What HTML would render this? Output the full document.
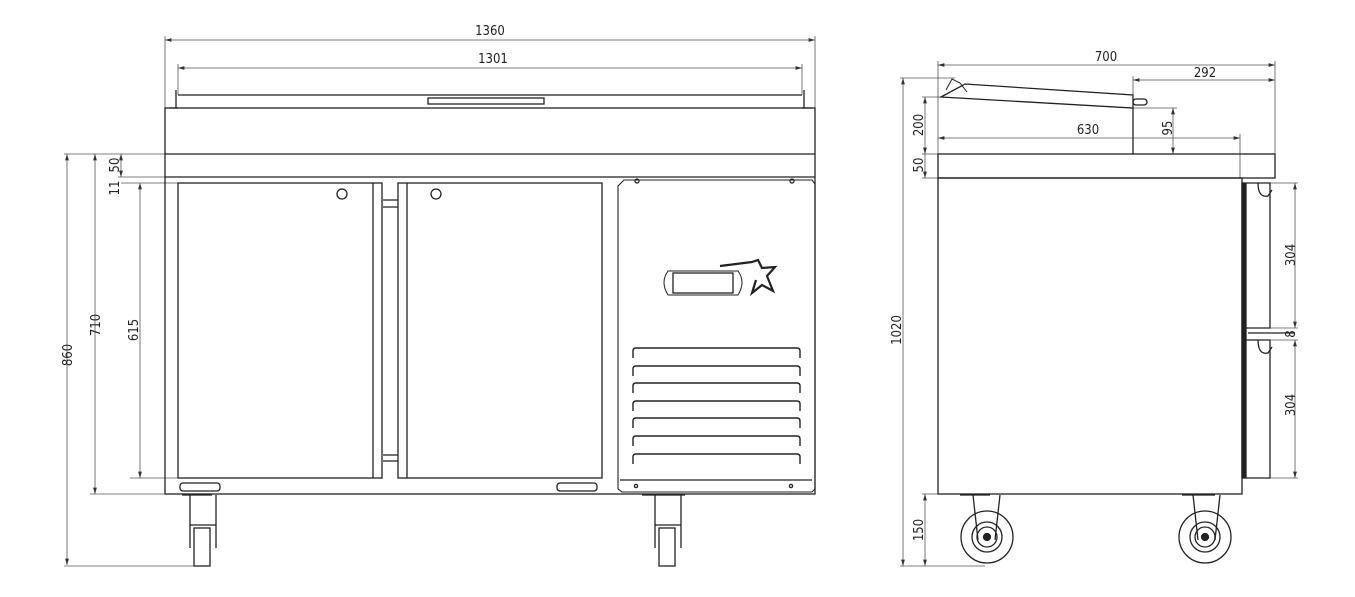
<!DOCTYPE html>
<html><head><meta charset="utf-8"><style>
html,body{margin:0;padding:0;background:#fff;}
svg{display:block;}
text{font-family:"DejaVu Sans Condensed","Liberation Sans Narrow","Liberation Sans",sans-serif;font-size:13px;fill:#222;}
</style></head><body>
<svg width="1355" height="597" viewBox="0 0 1355 597" xmlns="http://www.w3.org/2000/svg">
<defs>
<marker id="a" viewBox="0 0 10 6" refX="10" refY="3" markerWidth="8" markerHeight="5" orient="auto-start-reverse"><path d="M0,0 L10,3 L0,6 z" fill="#333"/></marker>
</defs>
<g stroke="#555" stroke-width="0.8" fill="none">
<line x1="165" y1="40" x2="815" y2="40" marker-start="url(#a)" marker-end="url(#a)"/>
<line x1="165" y1="36" x2="165" y2="108"/><line x1="815" y1="36" x2="815" y2="108"/>
<line x1="178" y1="68" x2="802" y2="68" marker-start="url(#a)" marker-end="url(#a)"/>
<line x1="178" y1="64" x2="178" y2="95"/><line x1="802" y1="64" x2="802" y2="95"/>
<line x1="67" y1="154" x2="67" y2="565" marker-start="url(#a)" marker-end="url(#a)"/>
<line x1="64" y1="154" x2="165" y2="154"/><line x1="64" y1="566" x2="197" y2="566"/>
<line x1="95" y1="154" x2="95" y2="494" marker-start="url(#a)" marker-end="url(#a)"/>
<line x1="90" y1="494" x2="165" y2="494"/>
<line x1="140" y1="183" x2="140" y2="478" marker-start="url(#a)" marker-end="url(#a)"/>
<line x1="121" y1="183" x2="178" y2="183"/><line x1="130" y1="478" x2="178" y2="478"/>
<line x1="121" y1="154" x2="121" y2="177" marker-start="url(#a)" marker-end="url(#a)"/>
<line x1="118" y1="177" x2="165" y2="177"/>
<line x1="938" y1="65" x2="1275" y2="65" marker-start="url(#a)" marker-end="url(#a)"/>
<line x1="938" y1="61" x2="938" y2="154"/><line x1="1275" y1="61" x2="1275" y2="154"/>
<line x1="1133" y1="80" x2="1275" y2="80" marker-start="url(#a)" marker-end="url(#a)"/>
<line x1="1133" y1="76" x2="1133" y2="95"/>
<line x1="938" y1="138" x2="1240" y2="138" marker-start="url(#a)" marker-end="url(#a)"/>
<line x1="1240" y1="134" x2="1240" y2="178"/>
<line x1="1173" y1="108" x2="1173" y2="154" marker-start="url(#a)" marker-end="url(#a)"/>
<line x1="1133" y1="108" x2="1177" y2="108"/>
<line x1="925" y1="97" x2="925" y2="154" marker-start="url(#a)" marker-end="url(#a)"/>
<line x1="922" y1="97" x2="945" y2="97"/><line x1="922" y1="154" x2="938" y2="154"/>
<line x1="925" y1="154" x2="925" y2="178" marker-end="url(#a)"/>
<line x1="922" y1="178" x2="938" y2="178"/>
<line x1="903" y1="78" x2="903" y2="566" marker-start="url(#a)" marker-end="url(#a)"/>
<line x1="900" y1="78" x2="955" y2="78"/><line x1="900" y1="566" x2="985" y2="566"/>
<line x1="925" y1="494" x2="925" y2="566" marker-start="url(#a)" marker-end="url(#a)"/>
<line x1="922" y1="494" x2="938" y2="494"/>
<line x1="1295" y1="183" x2="1295" y2="328" marker-start="url(#a)" marker-end="url(#a)"/>
<line x1="1295" y1="340" x2="1295" y2="478" marker-start="url(#a)" marker-end="url(#a)"/>
<line x1="1270" y1="183" x2="1298" y2="183"/><line x1="1270" y1="328" x2="1298" y2="328"/>
<line x1="1270" y1="340" x2="1298" y2="340"/><line x1="1270" y1="478" x2="1298" y2="478"/>
</g>
<text x="490" y="35" text-anchor="middle">1360</text>
<text x="493" y="63" text-anchor="middle">1301</text>
<text transform="translate(72,355) rotate(-90)" text-anchor="middle">860</text>
<text transform="translate(100,325) rotate(-90)" text-anchor="middle">710</text>
<text transform="translate(138,330) rotate(-90)" text-anchor="middle">615</text>
<text transform="translate(119,165) rotate(-90)" text-anchor="middle">50</text>
<text transform="translate(119,188) rotate(-90)" text-anchor="middle">11</text>
<text x="1106" y="61" text-anchor="middle">700</text>
<text x="1205" y="77" text-anchor="middle">292</text>
<text x="1088" y="134" text-anchor="middle">630</text>
<text transform="translate(1172,128) rotate(-90)" text-anchor="middle">95</text>
<text transform="translate(923,125) rotate(-90)" text-anchor="middle">200</text>
<text transform="translate(923,165) rotate(-90)" text-anchor="middle">50</text>
<text transform="translate(901,330) rotate(-90)" text-anchor="middle">1020</text>
<text transform="translate(923,530) rotate(-90)" text-anchor="middle">150</text>
<text transform="translate(1295,255) rotate(-90)" text-anchor="middle">304</text>
<text transform="translate(1295,334) rotate(-90)" text-anchor="middle">8</text>
<text transform="translate(1295,405) rotate(-90)" text-anchor="middle">304</text>

<g stroke="#222" stroke-width="1.3" fill="none">
<line x1="178" y1="95" x2="802" y2="95"/>
<rect x="428" y="98" width="116" height="6"/>
<path d="M176,90 V108 M169,108 H178 M804,90 V108 M802,108 H812"/>
<rect x="165" y="108" width="650" height="386"/>
<line x1="165" y1="154" x2="815" y2="154"/>
<line x1="165" y1="177" x2="815" y2="177"/>
<rect x="178" y="183" width="204" height="295"/>
<line x1="373" y1="183" x2="373" y2="478"/>
<rect x="398" y="183" width="204" height="295"/>
<line x1="407" y1="183" x2="407" y2="478"/>
<path d="M383,200 H398 M383,207 H398 M383,455 H398 M383,461 H398"/>
<circle cx="342" cy="194" r="5"/><circle cx="436" cy="194" r="5"/>
<path d="M618,186 L624,180 H812 L815,184 V489 L812,492 H622 L618,489 Z" stroke-width="1.1"/>
<line x1="620" y1="480" x2="812" y2="480"/>
<circle cx="637" cy="181" r="2"/><circle cx="792" cy="181" r="2"/>
<circle cx="636" cy="486" r="1.6"/><circle cx="791" cy="486" r="1.6"/>
<path d="M668,271 H738 Q746,282 738,295 H668 Q660,282 668,271 Z" stroke-width="1"/>
<rect x="673" y="273" width="60" height="20"/>
<path d="M720,266 L752,262 L758,260 L762,268 L775,267 L767,276 L773,291 L762,285 L752,293 L756,280" stroke-width="2.2"/>
<g stroke-width="1.4">
<path d="M633,358 V351 Q633,348 636,348 H797 Q800,348 800,351 V358"/>
<path d="M633,376 V369 Q633,366 636,366 H797 Q800,366 800,369 V376"/>
<path d="M633,393 V386 Q633,383 636,383 H797 Q800,383 800,386 V393"/>
<path d="M633,411 V404 Q633,401 636,401 H797 Q800,401 800,404 V411"/>
<path d="M633,428 V421 Q633,418 636,418 H797 Q800,418 800,421 V428"/>
<path d="M633,446 V439 Q633,436 636,436 H797 Q800,436 800,439 V446"/>
<path d="M633,464 V457 Q633,454 636,454 H797 Q800,454 800,457 V464"/>
</g>
<rect x="180" y="483" width="40" height="8" rx="3"/>
<rect x="557" y="483" width="40" height="8" rx="3"/>
<path d="M182,495 H212 M190,495 V525 H216 V495 M190,525 V548 M216,525 V548"/>
<rect x="194" y="528" width="16" height="38"/>
<path d="M642,495 H685 M655,495 V525 H681 V495 M655,525 V548 M681,525 V548"/>
<rect x="659" y="528" width="16" height="38"/>

<path d="M941,97 L965,84 L1133,95 V108 L1133,108 Z" fill="none"/>
<path d="M946,90 L952,79 L960,83 L967,92" stroke-width="1"/>
<rect x="1133" y="99" width="14" height="6" rx="3"/>
<line x1="1133" y1="108" x2="1133" y2="154"/>
<rect x="938" y="154" width="337" height="24"/>
<rect x="938" y="178" width="304" height="316"/>
<rect x="1242" y="183" width="4" height="295" fill="#222"/>
<path d="M1246,183 H1270 V328 H1246 M1258,183 Q1258,198 1268,196 L1272,190"/>
<path d="M1246,340 H1270 V478 H1246 M1258,340 Q1258,355 1268,353 L1272,347"/>
<path d="M1248,333 H1295"/>
<path d="M960,495 H990 M973,495 L978,540 M1000,495 L995,540 M1182,495 H1215 M1193,495 L1198,540 M1220,495 L1215,540"/>
<circle cx="987" cy="537" r="26"/><circle cx="987" cy="537" r="15"/><circle cx="987" cy="537" r="10"/>
<circle cx="987" cy="537" r="3.5" fill="#222"/>
<circle cx="1205" cy="537" r="26"/><circle cx="1205" cy="537" r="15"/><circle cx="1205" cy="537" r="10"/>
<circle cx="1205" cy="537" r="3.5" fill="#222"/>
</g>
</svg>
</body></html>
